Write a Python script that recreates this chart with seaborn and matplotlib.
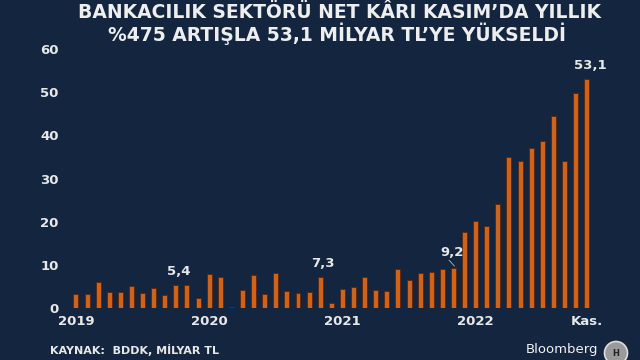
import matplotlib
matplotlib.use("Agg")
import matplotlib.pyplot as plt
import seaborn as sns
import pandas as pd
from matplotlib.patches import Circle

# ---- data (milyar TL, monthly net profit, Jan 2019 - Nov 2022) ----
months = list(range(47))
values_2019 = [3.2, 3.2, 6.0, 3.6, 3.6, 5.1, 3.4, 4.6, 3.0, 5.3, 5.4, 2.4]
values_2020 = [7.9, 7.1, 0.2, 4.2, 7.6, 3.3, 8.2, 3.9, 3.5, 3.6, 7.3, 1.1]
values_2021 = [4.3, 4.9, 7.1, 4.2, 4.0, 9.0, 6.4, 8.2, 8.4, 9.1, 9.2, 17.6]
values_2022 = [20.1, 18.9, 24.2, 35.0, 34.0, 37.1, 38.8, 44.4, 34.0, 49.9, 53.1]
values = values_2019 + values_2020 + values_2021 + values_2022
tick_pos = [0, 12, 24, 36, 46]
tick_labels = ["2019", "2020", "2021", "2022", "Kas."]
ann_idx = [10, 22, 34, 46]
ann_text = ["5,4", "7,3", "9,2", "53,1"]

BG = "#13253f"
TXT = "#e8e8e8"
BAR = "#d0631a"
EDGE = "#5c2608"

sns.set_theme(style="white")
plt.rcParams["font.family"] = ["DejaVu Sans"]

fig = plt.figure(figsize=(6.4, 3.6), dpi=100, facecolor=BG)
ax = fig.add_axes([0.1, 0.1444, 0.84, 0.7194])
ax.set_facecolor(BG)

df = pd.DataFrame({"m": months, "v": values})
sns.barplot(data=df, x="m", y="v", color=BAR, width=0.45, saturation=1,
            edgecolor=EDGE, linewidth=0.6, ax=ax)

ax.set_xlim(-1.08, 47.35)
ax.set_ylim(0, 60)
ax.set_yticks([0, 10, 20, 30, 40, 50, 60])
ax.set_yticklabels(["0", "10", "20", "30", "40", "50", "60"],
                   fontsize=9.5, fontweight="bold", color=TXT)
ax.set_xticks(tick_pos)
ax.set_xticklabels(tick_labels, fontsize=9.5, fontweight="bold", color=TXT)
ax.tick_params(axis="both", length=0)
ax.tick_params(axis="y", pad=4)
ax.tick_params(axis="x", pad=5)
ax.set_xlabel("")
ax.set_ylabel("")
for s in ax.spines.values():
    s.set_visible(False)

# annotations
offs = {10: (-0.7, 1.5), 22: (0.2, 1.4), 34: (-0.1, 2.1), 46: (0.3, 1.6)}
for i, t in zip(ann_idx, ann_text):
    dx, dy = offs[i]
    ax.text(i + dx, values[i] + dy, t, ha="center", va="bottom",
            fontsize=9.5, fontweight="bold", color=TXT)
# leader line for 9,2
ax.plot([33.6, 34.1], [values[34] + 1.9, values[34] + 0.5], color="#b0b8c4", lw=0.6)

fig.text(0.531, 0.965, "BANKACILIK SEKTÖRÜ NET KÂRI KASIM’DA YILLIK",
         ha="center", va="center", fontsize=13.5, fontweight="bold", color="#eeeeee")
fig.text(0.527, 0.905, "%475 ARTIŞLA 53,1 MİLYAR TL’YE YÜKSELDİ",
         ha="center", va="center", fontsize=13.5, fontweight="bold", color="#eeeeee")

fig.text(0.078, 0.012, "KAYNAK:  BDDK, MİLYAR TL", ha="left", va="bottom",
         fontsize=8, fontweight="bold", color=TXT)
fig.text(0.934, 0.012, "Bloomberg", ha="right", va="bottom",
         fontsize=9.5, color="#f2f2f2")
logo = Circle((616, 360 - 353), 11.5, transform=None,
              facecolor="#9a9a9a", edgecolor="#dddddd", lw=1.2)
fig.patches.append(logo)
fig.text(616 / 640, 7 / 360, "H", ha="center", va="center", fontsize=6,
         fontweight="bold", color="#222222")

fig.savefig("out.png", dpi=100, facecolor=BG)
